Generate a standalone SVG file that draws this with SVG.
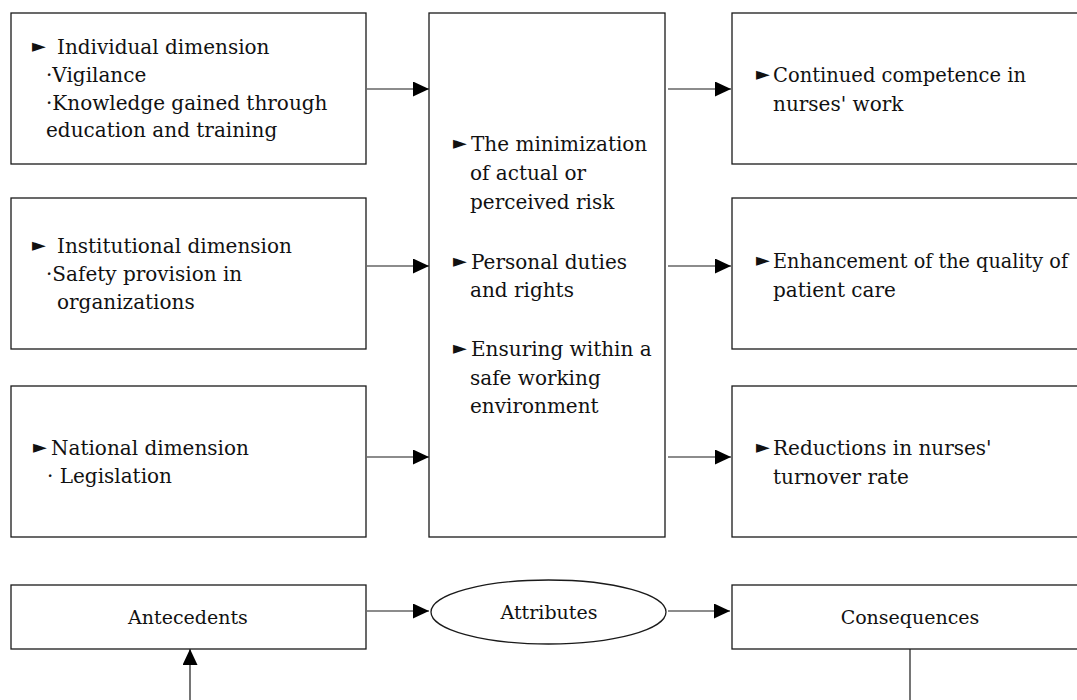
<svg xmlns="http://www.w3.org/2000/svg" width="1077" height="700" viewBox="0 0 1077 700">
<style>
.box{fill:#fff;stroke:#1a1a1a;stroke-width:1.3}
.t{font-family:"DejaVu Serif","Liberation Serif",serif;font-size:20px;fill:#111}
.s{font-family:"DejaVu Serif","Liberation Serif",serif;font-size:19px;fill:#111}
.b{font-family:"DejaVu Sans","Noto Sans",sans-serif;font-size:18px;fill:#111}
.c{fill:none;stroke:#1a1a1a;stroke-width:1.2}
</style>
<defs>
<marker id="ah" markerUnits="userSpaceOnUse" markerWidth="17" markerHeight="16" refX="16" refY="7.5" orient="auto">
<path d="M0,0 L16,7.5 L0,15 Z" fill="#000"/>
</marker>
</defs>
<rect width="1077" height="700" fill="#fff"/>

<g id="connectors">
<line class="c" x1="367" y1="89" x2="429" y2="89" marker-end="url(#ah)"/>
<line class="c" x1="367" y1="266" x2="429" y2="266" marker-end="url(#ah)"/>
<line class="c" x1="367" y1="457" x2="429" y2="457" marker-end="url(#ah)"/>
<line class="c" x1="668" y1="89" x2="731" y2="89" marker-end="url(#ah)"/>
<line class="c" x1="668" y1="266" x2="731" y2="266" marker-end="url(#ah)"/>
<line class="c" x1="668" y1="457" x2="731" y2="457" marker-end="url(#ah)"/>
<line class="c" x1="367" y1="611" x2="429" y2="611" marker-end="url(#ah)"/>
<line class="c" x1="668" y1="611" x2="730" y2="611" marker-end="url(#ah)"/>
<line class="c" x1="190" y1="700" x2="190" y2="649" marker-end="url(#ah)"/>
<line class="c" x1="910" y1="649" x2="910" y2="700"/>
</g>

<g id="individual">
<rect class="box" x="11" y="13" width="355" height="151"/>
<text class="b" x="32" y="52">►</text>
<text class="t" x="57" y="54">Individual dimension</text>
<text class="t" x="46" y="82">·Vigilance</text>
<text class="t" x="46" y="110">·Knowledge gained through</text>
<text class="t" x="46" y="137">education and training</text>
</g>

<g id="institutional">
<rect class="box" x="11" y="198" width="355" height="151"/>
<text class="b" x="32" y="251">►</text>
<text class="t" x="57" y="253">Institutional dimension</text>
<text class="t" x="46" y="281">·Safety provision in</text>
<text class="t" x="57" y="309">organizations</text>
</g>

<g id="national">
<rect class="box" x="11" y="386" width="355" height="151"/>
<text class="b" x="33" y="453">►</text>
<text class="t" x="51" y="455">National dimension</text>
<text class="t" x="47" y="483">· Legislation</text>
</g>

<g id="attributes-detail">
<rect class="box" x="429" y="13" width="236" height="524"/>
<text class="b" x="453" y="149">►</text>
<text class="t" x="471" y="151">The minimization</text>
<text class="t" x="470" y="180">of actual or</text>
<text class="t" x="470" y="209">perceived risk</text>
<text class="b" x="453" y="267">►</text>
<text class="t" x="471" y="269">Personal duties</text>
<text class="t" x="470" y="297">and rights</text>
<text class="b" x="453" y="354">►</text>
<text class="t" x="471" y="356">Ensuring within a</text>
<text class="t" x="470" y="385">safe working</text>
<text class="t" x="470" y="413">environment</text>
</g>

<g id="competence">
<rect class="box" x="732" y="13" width="360" height="151"/>
<text class="b" x="756" y="80">►</text>
<text class="t" x="773" y="82" textLength="253" lengthAdjust="spacingAndGlyphs">Continued competence in</text>
<text class="t" x="773" y="111">nurses' work</text>
</g>

<g id="quality">
<rect class="box" x="732" y="198" width="360" height="151"/>
<text class="b" x="756" y="266">►</text>
<text class="t" x="773" y="268" textLength="295" lengthAdjust="spacingAndGlyphs">Enhancement of the quality of</text>
<text class="t" x="773" y="297">patient care</text>
</g>

<g id="turnover">
<rect class="box" x="732" y="386" width="360" height="151"/>
<text class="b" x="756" y="453">►</text>
<text class="t" x="773" y="455">Reductions in nurses'</text>
<text class="t" x="773" y="484">turnover rate</text>
</g>

<g id="antecedents">
<rect class="box" x="11" y="585" width="355" height="64"/>
<text class="s" x="188" y="624" text-anchor="middle">Antecedents</text>
</g>

<g id="attributes">
<ellipse class="box" cx="548.5" cy="612" rx="117.5" ry="32"/>
<text class="s" x="549" y="619" text-anchor="middle">Attributes</text>
</g>

<g id="consequences">
<rect class="box" x="732" y="585" width="360" height="64"/>
<text class="s" x="910" y="624" text-anchor="middle">Consequences</text>
</g>
</svg>
